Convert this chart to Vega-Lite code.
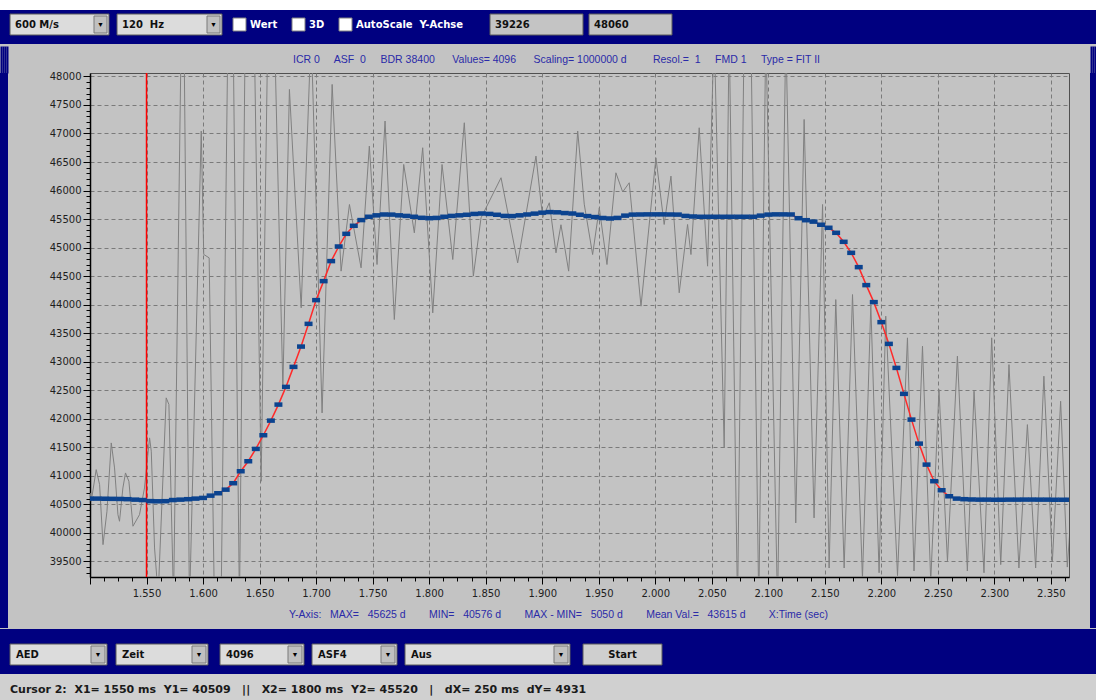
{
"$schema": "https://vega.github.io/schema/vega-lite/v6.json",
"background": "#c3c3c3",
"padding": 0,
"spacing": 0,
"config": {"view": {"stroke": null}, "concat": {"spacing": 0}},
"datasets": {
"topbar": [
{"part":"dropdown","from":10,"to":109,"label":"600 M/s"},
{"part":"dropdown","from":117,"to":222,"label":"120\u00a0 Hz"},
{"part":"check","from":233,"to":246,"label":"Wert"},
{"part":"check","from":292,"to":305,"label":"3D"},
{"part":"check","from":339,"to":352,"label":"AutoScale\u00a0 Y-Achse"},
{"part":"textbox","from":490,"to":583,"label":"39226"},
{"part":"textbox","from":589,"to":672,"label":"48060"}
],
"bottombar": [
{"part":"dropdown","from":10,"to":107,"label":"AED"},
{"part":"dropdown","from":116,"to":208,"label":"Zeit"},
{"part":"dropdown","from":220,"to":304,"label":"4096"},
{"part":"dropdown","from":312,"to":397,"label":"ASF4"},
{"part":"dropdown","from":405,"to":570,"label":"Aus"},
{"part":"button","from":583,"to":662,"label":"Start"}
],
"status": [
{"label":"Cursor 2:\u00a0 X1= 1550 ms\u00a0 Y1= 40509\u00a0\u00a0 ||\u00a0\u00a0 X2= 1800 ms\u00a0 Y2= 45520\u00a0\u00a0 |\u00a0\u00a0 dX= 250 ms\u00a0 dY= 4931","at":10}
],
"cursor": [{"t":1.55}],
"raw": [
{"t":1.5002,"v":40700},{"t":1.5011,"v":40554},{"t":1.5055,"v":41108},{"t":1.5085,"v":40845},{"t":1.5115,"v":39793},{"t":1.515,"v":40378},{"t":1.5188,"v":41576},{"t":1.5217,"v":41138},{"t":1.5247,"v":40319},{"t":1.5261,"v":40203},{"t":1.5291,"v":40787},{"t":1.5314,"v":41050},{"t":1.5344,"v":40904},{"t":1.538,"v":40116},{"t":1.5438,"v":40319},{"t":1.5482,"v":40787},{"t":1.5527,"v":41664},{"t":1.5542,"v":41431},{"t":1.5571,"v":39735},{"t":1.5603,"v":38900},{"t":1.5674,"v":42366},{"t":1.5698,"v":42250},{"t":1.5739,"v":38800},{"t":1.5807,"v":48800},{"t":1.5833,"v":48500},{"t":1.588,"v":38700},{"t":1.5984,"v":47042},{"t":1.6006,"v":44880},{"t":1.6054,"v":44820},{"t":1.6101,"v":38700},{"t":1.616,"v":38800},{"t":1.622,"v":48800},{"t":1.6266,"v":48800},{"t":1.6322,"v":38700},{"t":1.6373,"v":48800},{"t":1.6417,"v":48800},{"t":1.6455,"v":48500},{"t":1.6514,"v":40904},{"t":1.6573,"v":48800},{"t":1.6632,"v":48800},{"t":1.6706,"v":42541},{"t":1.6764,"v":47772},{"t":1.6868,"v":43944},{"t":1.6956,"v":48800},{"t":1.7053,"v":42102},{"t":1.7142,"v":47860},{"t":1.7221,"v":44587},{"t":1.7295,"v":45755},{"t":1.7398,"v":44645},{"t":1.7471,"v":46779},{"t":1.7539,"v":44703},{"t":1.761,"v":47218},{"t":1.7692,"v":43739},{"t":1.7775,"v":46457},{"t":1.7869,"v":45259},{"t":1.7943,"v":46750},{"t":1.8032,"v":43856},{"t":1.8114,"v":46457},{"t":1.8209,"v":44791},{"t":1.8311,"v":47188},{"t":1.8391,"v":44500},{"t":1.8459,"v":45522},{"t":1.8636,"v":46224},{"t":1.8783,"v":44732},{"t":1.8945,"v":46604},{"t":1.9004,"v":45522},{"t":1.9063,"v":45785},{"t":1.9122,"v":44908},{"t":1.9166,"v":45400},{"t":1.9234,"v":44587},{"t":1.9314,"v":47042},{"t":1.9372,"v":45761},{"t":1.9446,"v":44878},{"t":1.9505,"v":45697},{"t":1.9573,"v":44703},{"t":1.9652,"v":46311},{"t":1.9712,"v":45976},{"t":1.977,"v":46136},{"t":1.9874,"v":43973},{"t":2.0006,"v":46574},{"t":2.0079,"v":45405},{"t":2.0139,"v":46253},{"t":2.0212,"v":44207},{"t":2.0286,"v":45405},{"t":2.0316,"v":44878},{"t":2.0389,"v":47100},{"t":2.0463,"v":44674},{"t":2.0521,"v":48800},{"t":2.061,"v":41488},{"t":2.0654,"v":48800},{"t":2.0728,"v":38700},{"t":2.0786,"v":48800},{"t":2.0846,"v":48800},{"t":2.0916,"v":38700},{"t":2.0978,"v":48800},{"t":2.1082,"v":38700},{"t":2.1155,"v":48800},{"t":2.1243,"v":40173},{"t":2.1317,"v":47246},{"t":2.1405,"v":40261},{"t":2.148,"v":45755},{"t":2.1538,"v":39384},{"t":2.1597,"v":44089},{"t":2.1671,"v":39384},{"t":2.1745,"v":44177},{"t":2.1833,"v":39200},{"t":2.1907,"v":44000},{"t":2.198,"v":39300},{"t":2.2039,"v":43798},{"t":2.2143,"v":39250},{"t":2.2231,"v":43418},{"t":2.2289,"v":39331},{"t":2.2364,"v":43272},{"t":2.2437,"v":39150},{"t":2.251,"v":42511},{"t":2.2585,"v":39502},{"t":2.2673,"v":43097},{"t":2.2761,"v":39331},{"t":2.282,"v":42483},{"t":2.2908,"v":39300},{"t":2.2976,"v":43418},{"t":2.3056,"v":39443},{"t":2.3129,"v":42949},{"t":2.3217,"v":39384},{"t":2.3292,"v":41897},{"t":2.3365,"v":39384},{"t":2.3438,"v":42746},{"t":2.3513,"v":39502},{"t":2.3586,"v":42307},{"t":2.3645,"v":39400},{"t":2.3666,"v":40000}
],
"fit": [
{"t":1.5,"fit":40600},{"t":1.50667,"fit":40600},{"t":1.51333,"fit":40598},{"t":1.52,"fit":40596},{"t":1.52667,"fit":40594},{"t":1.53333,"fit":40590},{"t":1.54,"fit":40582},{"t":1.54667,"fit":40575},{"t":1.55333,"fit":40556},{"t":1.56,"fit":40553},{"t":1.56667,"fit":40555},{"t":1.57333,"fit":40575},{"t":1.58,"fit":40582},{"t":1.58667,"fit":40590},{"t":1.59333,"fit":40600},{"t":1.6,"fit":40612},{"t":1.60667,"fit":40652},{"t":1.61333,"fit":40694},{"t":1.62,"fit":40757},{"t":1.62667,"fit":40870},{"t":1.63333,"fit":41080},{"t":1.64,"fit":41255},{"t":1.64667,"fit":41471},{"t":1.65333,"fit":41711},{"t":1.66,"fit":41967},{"t":1.66667,"fit":42248},{"t":1.67333,"fit":42558},{"t":1.68,"fit":42909},{"t":1.68667,"fit":43265},{"t":1.69333,"fit":43663},{"t":1.7,"fit":44079},{"t":1.70667,"fit":44412},{"t":1.71333,"fit":44763},{"t":1.72,"fit":45019},{"t":1.72667,"fit":45241},{"t":1.73333,"fit":45382},{"t":1.74,"fit":45482},{"t":1.74667,"fit":45540},{"t":1.75333,"fit":45565},{"t":1.76,"fit":45580},{"t":1.76667,"fit":45578},{"t":1.77333,"fit":45565},{"t":1.78,"fit":45555},{"t":1.78667,"fit":45540},{"t":1.79333,"fit":45522},{"t":1.8,"fit":45515},{"t":1.80667,"fit":45520},{"t":1.81333,"fit":45540},{"t":1.82,"fit":45555},{"t":1.82667,"fit":45565},{"t":1.83333,"fit":45575},{"t":1.84,"fit":45590},{"t":1.84667,"fit":45597},{"t":1.85333,"fit":45590},{"t":1.86,"fit":45575},{"t":1.86667,"fit":45555},{"t":1.87333,"fit":45552},{"t":1.88,"fit":45565},{"t":1.88667,"fit":45580},{"t":1.89333,"fit":45595},{"t":1.9,"fit":45612},{"t":1.90667,"fit":45622},{"t":1.91333,"fit":45618},{"t":1.92,"fit":45605},{"t":1.92667,"fit":45597},{"t":1.93333,"fit":45575},{"t":1.94,"fit":45552},{"t":1.94667,"fit":45535},{"t":1.95333,"fit":45520},{"t":1.96,"fit":45510},{"t":1.96667,"fit":45520},{"t":1.97333,"fit":45560},{"t":1.98,"fit":45578},{"t":1.98667,"fit":45580},{"t":1.99333,"fit":45582},{"t":2.0,"fit":45582},{"t":2.00667,"fit":45582},{"t":2.01333,"fit":45580},{"t":2.02,"fit":45578},{"t":2.02667,"fit":45555},{"t":2.03333,"fit":45545},{"t":2.04,"fit":45540},{"t":2.04667,"fit":45540},{"t":2.05333,"fit":45540},{"t":2.06,"fit":45540},{"t":2.06667,"fit":45540},{"t":2.07333,"fit":45540},{"t":2.08,"fit":45540},{"t":2.08667,"fit":45540},{"t":2.09333,"fit":45560},{"t":2.1,"fit":45578},{"t":2.10667,"fit":45582},{"t":2.11333,"fit":45582},{"t":2.12,"fit":45580},{"t":2.12667,"fit":45515},{"t":2.13333,"fit":45480},{"t":2.14,"fit":45455},{"t":2.14667,"fit":45400},{"t":2.15333,"fit":45347},{"t":2.16,"fit":45259},{"t":2.16667,"fit":45101},{"t":2.17333,"fit":44908},{"t":2.18,"fit":44657},{"t":2.18667,"fit":44342},{"t":2.19333,"fit":44044},{"t":2.2,"fit":43693},{"t":2.20667,"fit":43312},{"t":2.21333,"fit":42891},{"t":2.22,"fit":42436},{"t":2.22667,"fit":41985},{"t":2.23333,"fit":41564},{"t":2.24,"fit":41196},{"t":2.24667,"fit":40905},{"t":2.25333,"fit":40747},{"t":2.26,"fit":40641},{"t":2.26667,"fit":40600},{"t":2.27333,"fit":40590},{"t":2.28,"fit":40585},{"t":2.28667,"fit":40582},{"t":2.29333,"fit":40582},{"t":2.3,"fit":40580},{"t":2.30667,"fit":40580},{"t":2.31333,"fit":40582},{"t":2.32,"fit":40582},{"t":2.32667,"fit":40583},{"t":2.33333,"fit":40583},{"t":2.34,"fit":40582},{"t":2.34667,"fit":40582},{"t":2.35333,"fit":40580},{"t":2.36,"fit":40580},{"t":2.36667,"fit":40580}
]
},
"vconcat": [
{
"width": 1096, "height": 10,
"data": {"values": []},
"mark": "rect",
"view": {"fill": "#ffffff", "stroke": null}
},
{
"width": 1096, "height": 34,
"data": {"name": "topbar"},
"view": {"fill": "#000080", "stroke": null},
"layer": [
{"transform": [{"filter": "datum.part !== 'check'"}],
 "mark": {"type": "rect", "stroke": "#5a5a5a", "strokeWidth": 1},
 "encoding": {
  "x": {"field": "from", "type": "quantitative", "scale": {"domain": [0, 1096], "nice": false, "zero": false}, "axis": null},
  "x2": {"field": "to"},
  "y": {"datum": 4, "type": "quantitative", "scale": {"domain": [0, 34], "reverse": true, "nice": false, "zero": false}, "axis": null},
  "y2": {"datum": 25},
  "fill": {"field": "part", "type": "nominal", "scale": {"domain": ["dropdown", "textbox", "button"], "range": ["#dcdcdc", "#c4c4c4", "#cfcfcf"]}, "legend": null}
 }},
{"transform": [{"filter": "datum.part === 'check'"}],
 "mark": {"type": "rect", "fill": "#ffffff", "stroke": "#808080", "strokeWidth": 1},
 "encoding": {
  "x": {"field": "from", "type": "quantitative"},
  "x2": {"field": "to"},
  "y": {"datum": 8, "type": "quantitative"},
  "y2": {"datum": 21}
 }},
{"transform": [{"filter": "datum.part === 'dropdown'"}],
 "mark": {"type": "rect", "fill": "#c0c0c0", "stroke": "#7a7a7a", "strokeWidth": 1, "xOffset": -15, "x2Offset": -2},
 "encoding": {
  "x": {"field": "to", "type": "quantitative"},
  "x2": {"field": "to"},
  "y": {"datum": 6, "type": "quantitative"},
  "y2": {"datum": 23}
 }},
{"transform": [{"filter": "datum.part === 'dropdown'"}],
 "mark": {"type": "text", "text": "\u25bc", "fontSize": 7, "color": "#000000", "align": "center", "baseline": "middle", "dx": -8.5},
 "encoding": {
  "x": {"field": "to", "type": "quantitative"},
  "y": {"datum": 14.5, "type": "quantitative"}
 }},
{"transform": [{"filter": "datum.part === 'dropdown' || datum.part === 'textbox'"}],
 "mark": {"type": "text", "font": "DejaVu Sans", "fontSize": 10, "fontWeight": "bold", "align": "left", "baseline": "middle", "dx": 5, "color": "#111111"},
 "encoding": {
  "x": {"field": "from", "type": "quantitative"},
  "y": {"datum": 14.5, "type": "quantitative"},
  "text": {"field": "label"}
 }},
{"transform": [{"filter": "datum.part === 'check'"}],
 "mark": {"type": "text", "font": "DejaVu Sans", "fontSize": 10, "fontWeight": "bold", "align": "left", "baseline": "middle", "dx": 4, "color": "#ffffff"},
 "encoding": {
  "x": {"field": "to", "type": "quantitative"},
  "y": {"datum": 14.5, "type": "quantitative"},
  "text": {"field": "label"}
 }}
]
},
{
"hconcat": [
{"width": 8, "height": 555, "data": {"values": [{}]},
 "mark": {"type": "point", "opacity": 0},
 "view": {"fill": "#000080", "stroke": null},
 "encoding": {"x": {"datum": 0.5, "type": "quantitative", "scale": {"domain": [0, 1]},
  "axis": {"orient": "top", "values": [0.125, 0.375, 0.625, 0.875], "labels": false, "domain": false, "grid": false, "ticks": true, "tickSize": 27, "tickWidth": 2, "tickColor": "#000080", "tickCap": "butt", "title": null, "minExtent": 28, "maxExtent": 28}}}},
{
"width": 979, "height": 504,
"view": {"fill": "#c3c3c3", "stroke": "#505050", "strokeWidth": 1},
"resolve": {"axis": {"x": "independent", "y": "independent"}},
"layer": [
{"data": {"name": "raw"},
 "mark": {"type": "line", "color": "#808080", "strokeWidth": 1, "clip": true},
 "encoding": {
  "x": {"field": "t", "type": "quantitative", "scale": {"domain": [1.5, 2.366], "nice": false, "zero": false},
   "axis": {"orient": "bottom",
    "values": [1.5,1.5125,1.525,1.5375,1.55,1.5625,1.575,1.5875,1.6,1.6125,1.625,1.6375,1.65,1.6625,1.675,1.6875,1.7,1.7125,1.725,1.7375,1.75,1.7625,1.775,1.7875,1.8,1.8125,1.825,1.8375,1.85,1.8625,1.875,1.8875,1.9,1.9125,1.925,1.9375,1.95,1.9625,1.975,1.9875,2.0,2.0125,2.025,2.0375,2.05,2.0625,2.075,2.0875,2.1,2.1125,2.125,2.1375,2.15,2.1625,2.175,2.1875,2.2,2.2125,2.225,2.2375,2.25,2.2625,2.275,2.2875,2.3,2.3125,2.325,2.3375,2.35,2.3625],
    "labelExpr": "abs(datum.value*20 - round(datum.value*20)) < 0.01 && datum.value > 1.52 ? format(datum.value, '.3f') : ''",
    "tickSize": {"condition": {"test": "abs(datum.value*20 - round(datum.value*20)) < 0.01", "value": 7}, "value": 4},
    "gridOpacity": {"condition": {"test": "abs(datum.value*20 - round(datum.value*20)) < 0.01", "value": 1}, "value": 0},
    "grid": true, "gridColor": "#7a7a7a", "gridDash": [4, 3], "gridWidth": 1,
    "domainColor": "#000000", "domainWidth": 1.5, "tickColor": "#000000", "tickWidth": 1,
    "labelFont": "DejaVu Sans", "labelFontSize": 10, "labelColor": "#1e1e1e", "labelPadding": 4, "labelOverlap": false, "labelFlush": false,
    "title": "Y-Axis:\u00a0\u00a0 MAX=\u00a0\u00a0 45625 d\u00a0\u00a0\u00a0\u00a0\u00a0\u00a0\u00a0 MIN=\u00a0\u00a0 40576 d\u00a0\u00a0\u00a0\u00a0\u00a0\u00a0\u00a0 MAX - MIN=\u00a0\u00a0 5050 d\u00a0\u00a0\u00a0\u00a0\u00a0\u00a0\u00a0 Mean Val.=\u00a0\u00a0 43615 d\u00a0\u00a0\u00a0\u00a0\u00a0\u00a0\u00a0 X:Time (sec)",
    "titleFont": "Liberation Sans", "titleFontSize": 10.5, "titleFontWeight": "normal", "titleColor": "#2a2aa8",
    "titleX": 468, "titleY": 37, "titleAlign": "center", "titleBaseline": "middle",
    "minExtent": 51, "maxExtent": 51}},
  "y": {"field": "v", "type": "quantitative", "scale": {"domain": [39226, 48060], "nice": false, "zero": false},
   "axis": {"orient": "left",
    "values": [39300,39400,39500,39600,39700,39800,39900,40000,40100,40200,40300,40400,40500,40600,40700,40800,40900,41000,41100,41200,41300,41400,41500,41600,41700,41800,41900,42000,42100,42200,42300,42400,42500,42600,42700,42800,42900,43000,43100,43200,43300,43400,43500,43600,43700,43800,43900,44000,44100,44200,44300,44400,44500,44600,44700,44800,44900,45000,45100,45200,45300,45400,45500,45600,45700,45800,45900,46000,46100,46200,46300,46400,46500,46600,46700,46800,46900,47000,47100,47200,47300,47400,47500,47600,47700,47800,47900,48000],
    "format": "d",
    "labelExpr": "datum.value % 500 == 0 ? datum.label : ''",
    "tickSize": {"condition": {"test": "datum.value % 500 == 0", "value": 7}, "value": 4},
    "gridOpacity": {"condition": {"test": "datum.value % 500 == 0", "value": 1}, "value": 0},
    "grid": true, "gridColor": "#7a7a7a", "gridDash": [4, 3], "gridWidth": 1,
    "domainColor": "#000000", "domainWidth": 1.5, "tickColor": "#000000", "tickWidth": 1,
    "labelFont": "DejaVu Sans", "labelFontSize": 10, "labelColor": "#1e1e1e", "labelPadding": 2, "labelOverlap": false, "labelFlush": false,
    "title": null, "minExtent": 81, "maxExtent": 81}}
 }},
{"data": {"name": "cursor"},
 "mark": {"type": "rule", "color": "#ff0000", "strokeWidth": 1.5},
 "encoding": {
  "x": {"field": "t", "type": "quantitative", "scale": {"domain": [1.5, 2.366], "nice": false, "zero": false}, "axis": null}
 }},
{"data": {"name": "fit"},
 "mark": {"type": "line", "color": "#ff2a2a", "strokeWidth": 1.5, "clip": true},
 "encoding": {
  "x": {"field": "t", "type": "quantitative", "scale": {"domain": [1.5, 2.366], "nice": false, "zero": false}, "axis": null},
  "y": {"field": "fit", "type": "quantitative", "scale": {"domain": [39226, 48060], "nice": false, "zero": false}, "axis": null}
 }},
{"data": {"name": "fit"},
 "mark": {"type": "tick", "orient": "horizontal", "color": "#0b438f", "size": 8, "thickness": 4.5, "opacity": 1, "clip": true},
 "encoding": {
  "x": {"field": "t", "type": "quantitative", "scale": {"domain": [1.5, 2.366], "nice": false, "zero": false},
   "axis": {"orient": "top", "labels": false, "ticks": false, "domain": false, "grid": false,
    "title": "ICR 0\u00a0\u00a0\u00a0\u00a0 ASF\u00a0 0\u00a0\u00a0\u00a0\u00a0 BDR 38400\u00a0\u00a0\u00a0\u00a0\u00a0 Values= 4096\u00a0\u00a0\u00a0\u00a0\u00a0 Scaling= 1000000 d\u00a0\u00a0\u00a0\u00a0\u00a0\u00a0\u00a0\u00a0 Resol.=\u00a0 1\u00a0\u00a0\u00a0\u00a0 FMD 1\u00a0\u00a0\u00a0\u00a0 Type = FIT II",
    "titleFont": "Liberation Sans", "titleFontSize": 10.5, "titleFontWeight": "normal", "titleColor": "#2a2aa8",
    "titleX": 466, "titleY": -14, "titleAlign": "center", "titleBaseline": "middle",
    "minExtent": 28, "maxExtent": 28}},
  "y": {"field": "fit", "type": "quantitative", "scale": {"domain": [39226, 48060], "nice": false, "zero": false},
   "axis": {"orient": "right", "labels": false, "ticks": false, "domain": false, "grid": false, "title": null, "minExtent": 20, "maxExtent": 20}}
 }}
]
},
{"width": 8, "height": 555, "data": {"values": [{}]},
 "mark": {"type": "point", "opacity": 0},
 "view": {"fill": "#000080", "stroke": null},
 "encoding": {"x": {"datum": 0.5, "type": "quantitative", "scale": {"domain": [0, 1]},
  "axis": {"orient": "top", "values": [0.125, 0.375, 0.625, 0.875], "labels": false, "domain": false, "grid": false, "ticks": true, "tickSize": 27, "tickWidth": 2, "tickColor": "#000080", "tickCap": "butt", "title": null, "minExtent": 28, "maxExtent": 28}}}}
]
},
{
"width": 1096, "height": 45,
"data": {"name": "bottombar"},
"view": {"fill": "#000080", "stroke": null},
"layer": [
{"mark": {"type": "rect", "stroke": "#5a5a5a", "strokeWidth": 1},
 "encoding": {
  "x": {"field": "from", "type": "quantitative", "scale": {"domain": [0, 1096], "nice": false, "zero": false}, "axis": null},
  "x2": {"field": "to"},
  "y": {"datum": 15, "type": "quantitative", "scale": {"domain": [0, 45], "reverse": true, "nice": false, "zero": false}, "axis": null},
  "y2": {"datum": 36},
  "fill": {"field": "part", "type": "nominal", "scale": {"domain": ["dropdown", "button"], "range": ["#d8d8d8", "#d0d0d0"]}, "legend": null}
 }},
{"transform": [{"filter": "datum.part === 'dropdown'"}],
 "mark": {"type": "rect", "fill": "#c0c0c0", "stroke": "#7a7a7a", "strokeWidth": 1, "xOffset": -16, "x2Offset": -2},
 "encoding": {
  "x": {"field": "to", "type": "quantitative"},
  "x2": {"field": "to"},
  "y": {"datum": 17, "type": "quantitative"},
  "y2": {"datum": 34}
 }},
{"transform": [{"filter": "datum.part === 'dropdown'"}],
 "mark": {"type": "text", "text": "\u25bc", "fontSize": 7, "color": "#000000", "align": "center", "baseline": "middle", "dx": -9},
 "encoding": {
  "x": {"field": "to", "type": "quantitative"},
  "y": {"datum": 25.5, "type": "quantitative"}
 }},
{"transform": [{"filter": "datum.part === 'dropdown'"}],
 "mark": {"type": "text", "font": "DejaVu Sans", "fontSize": 10, "fontWeight": "bold", "align": "left", "baseline": "middle", "dx": 6, "color": "#111111"},
 "encoding": {
  "x": {"field": "from", "type": "quantitative"},
  "y": {"datum": 25.5, "type": "quantitative"},
  "text": {"field": "label"}
 }},
{"transform": [{"filter": "datum.part === 'button'"}],
 "mark": {"type": "text", "font": "DejaVu Sans", "fontSize": 10, "fontWeight": "bold", "align": "center", "baseline": "middle", "dx": 39.5, "color": "#111111"},
 "encoding": {
  "x": {"field": "from", "type": "quantitative"},
  "y": {"datum": 25.5, "type": "quantitative"},
  "text": {"field": "label"}
 }}
]
},
{
"width": 1096, "height": 28,
"data": {"name": "status"},
"view": {"fill": "#d0d0d0", "stroke": null},
"mark": {"type": "text", "font": "DejaVu Sans", "fontSize": 11, "fontWeight": "bold", "align": "left", "baseline": "middle", "color": "#1a1a1a"},
"encoding": {
 "x": {"field": "at", "type": "quantitative", "scale": {"domain": [0, 1096], "nice": false, "zero": false}, "axis": null},
 "y": {"datum": 16, "type": "quantitative", "scale": {"domain": [0, 28], "reverse": true, "nice": false, "zero": false}, "axis": null},
 "text": {"field": "label"}
}
}
]
}
